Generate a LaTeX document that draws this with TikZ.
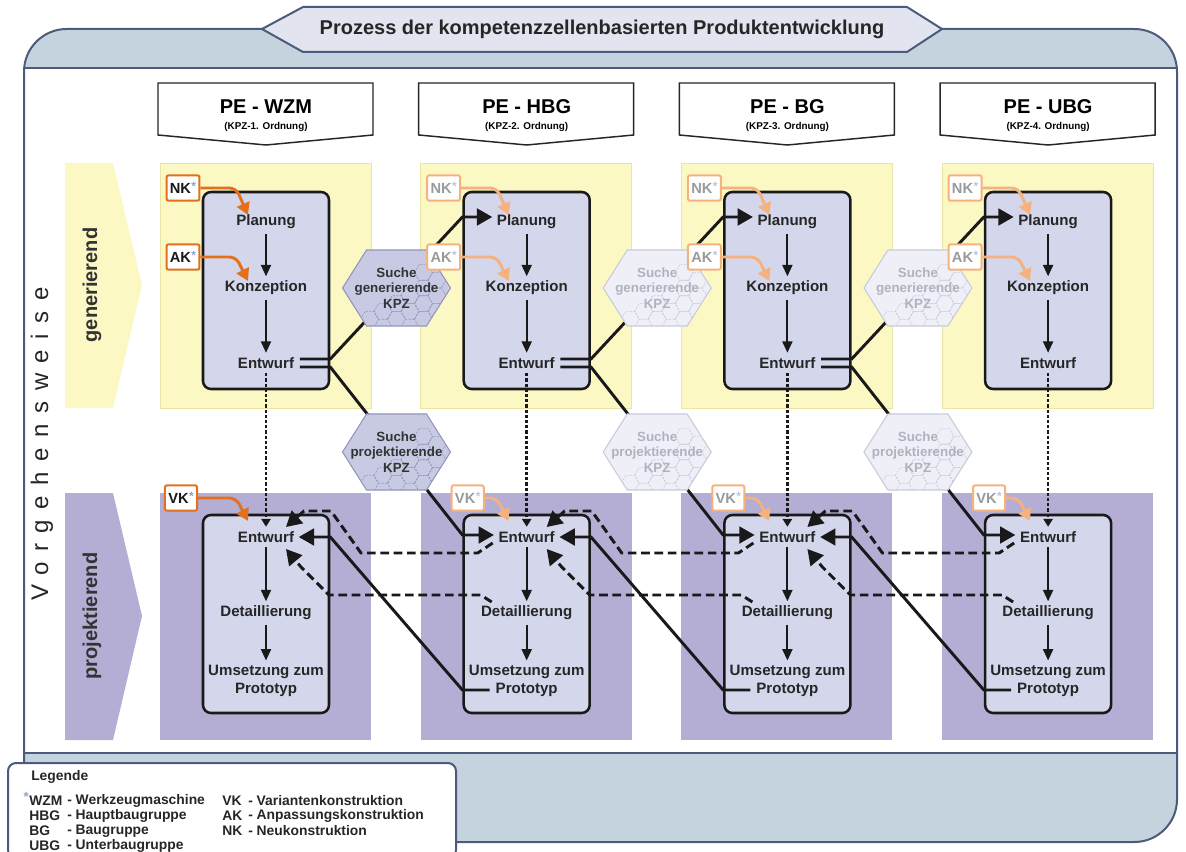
\documentclass[tikz,border=0pt]{standalone}
\usepackage{fontspec}
\setmainfont{Liberation Sans}
\newfontfamily\spacedfont[LetterSpace=44]{Liberation Sans}
\usepackage{tikz}
\usetikzlibrary{arrows.meta,calc,fit}
\definecolor{framecol}{HTML}{4C5B7B}
\definecolor{bandblue}{HTML}{C5D3DE}
\definecolor{tabgray}{HTML}{E2E5EF}
\definecolor{genyellow}{HTML}{FCF8C4}
\definecolor{genedge}{HTML}{ECE5A8}
\definecolor{projpurple}{HTML}{B4ADD4}
\definecolor{phasefill}{HTML}{D4D6EC}
\definecolor{kpzdark}{HTML}{E2701C}
\definecolor{kpzlight}{HTML}{F5B27E}
\definecolor{labelgray}{HTML}{9A9A9A}
\definecolor{starblue}{HTML}{8DA3D0}
\definecolor{starpale}{HTML}{B9C7E4}
\definecolor{hexfill}{HTML}{C8CAE4}
\definecolor{hexedge}{HTML}{9396B8}
\definecolor{hexink}{HTML}{333333}
\definecolor{hexpale}{HTML}{EEEFF7}
\definecolor{hexpaleedge}{HTML}{C9CBDA}
\definecolor{hexpaleink}{HTML}{B0B2C0}
\newcommand{\starmark}[1]{\kern0.3pt\raisebox{2pt}{\fontsize{9}{9}\selectfont\color{#1}*}}
\tikzset{
  frameline/.style={draw=framecol, line width=1.5pt},
  titletext/.style={font=\fontsize{15}{18}\selectfont\bfseries, text=black!85},
  headbox/.style={draw=black!85, fill=white, line width=1.1pt},
  headtitle/.style={font=\fontsize{15}{18}\selectfont\bfseries, inner sep=0pt},
  headsub/.style={font=\fontsize{7.4}{9}\selectfont\bfseries, inner sep=0pt},
  sidelabel/.style={rotate=90, font=\fontsize{15}{18}\selectfont\bfseries, text=black!80},
  waylabel/.style={rotate=90, font=\fontsize{18}{20}\spacedfont, text=black!85},
  panelgen/.style={fill=genyellow, draw=genedge, line width=0.6pt},
  panelproj/.style={fill=projpurple},
  procbox/.style={draw=black!90, fill=phasefill, line width=1.9pt, rounded corners=6pt, inner sep=0pt},
  phase/.style={font=\fontsize{11.3}{13.6}\selectfont\bfseries, text=black!85, align=center},
  steparrow/.style={draw=black!90, line width=1.4pt, -{Triangle[width=7.5pt,length=8.5pt]}},
  link/.style={draw=black!90, line width=2.2pt},
  bigtip/.style={-{Triangle[width=12.5pt,length=11.5pt]}},
  backlink/.style={link, bigtip, dash pattern=on 6.5pt off 3.5pt},
  dotlink/.style={draw=black!90, line width=2pt, dash pattern=on 2.4pt off 1.5pt, -{Triangle[width=7pt,length=6pt]}},
  kpzbox/.style={fill=white, line width=1.5pt, rounded corners=1.5pt, inner xsep=2.5pt, inner ysep=2pt, minimum height=19pt, font=\fontsize{11}{13}\selectfont\bfseries},
  kpzarrow/.style={line width=2.2pt, rounded corners=5pt, -{Triangle[width=10pt,length=9pt]}},
  hexshape/.style={insert path={++(-54,0) -- ++(24,-38) -- ++(60,0) -- ++(24,38) -- ++(-24,38) -- ++(-60,0) -- cycle}},
  cellshape/.style={insert path={++(-9,0) -- ++(4.5,-7.8) -- ++(9,0) -- ++(4.5,7.8) -- ++(-4.5,7.8) -- ++(-9,0) -- cycle}},
  hexlabel/.style={font=\fontsize{10}{11.6}\selectfont\bfseries, align=center, inner sep=0pt},
  legendtext/.style={anchor=west, inner sep=0pt, font=\fontsize{10.4}{12}\selectfont\bfseries, text=black!85}
}
\begin{document}
\begin{tikzpicture}[x=0.75pt,y=-0.75pt]
  \useasboundingbox (0,0) rectangle (1186,852);
  % frame with title tab
  \fill[bandblue, rounded corners=32pt] (24,842) -- (24,29) -- (1177,29) -- (1177,842) -- cycle;
  \fill[white] (24,68) rectangle (1177,753);
  \draw[frameline, rounded corners=32pt] (24,842) -- (24,29) -- (1177,29) -- (1177,842) -- cycle;
  \draw[frameline] (24,68) -- (1177,68) (24,753) -- (1177,753);
  \draw[frameline, fill=tabgray] (262,29) -- (303,7) -- (907,7) -- (942,29) -- (907,52) -- (303,52) -- cycle;
  \node[titletext] (title) at (602,29) {Prozess der kompetenzzellenbasierten Produktentwicklung};
  % side arrows
  \fill[genyellow] (65,163) -- (113,163) -- (142,285) -- (113,408) -- (65,408) -- cycle;
  \node[sidelabel] (gen) at (92,285) {generierend};
  \fill[projpurple] (65,493) -- (113,493) -- (142,616) -- (113,740) -- (65,740) -- cycle;
  \node[sidelabel] (proj) at (92,616) {projektierend};
  \node[waylabel] (vorg) at (42,444) {Vorgehensweise};
  % one column per PE
  \foreach \i/\abb in {1/WZM,2/HBG,3/BG,4/UBG}{
    \pgfmathsetmacro\colx{203+260.7*(\i-1)}
    \draw[headbox] (\colx-45,83) -- (\colx+170,83) -- (\colx+170,135) -- (\colx+63,145) -- (\colx-45,135) -- cycle;
    \node[headtitle] (head\i) at (\colx+63,107) {PE - \abb};
    \node[headsub] (ord\i) at (\colx+63,127) {(KPZ-\i. Ordnung)};
    \draw[panelgen] (\colx-43,163) rectangle (\colx+168,408);
    \fill[panelproj] (\colx-43,493) rectangle (\colx+168,740);
    \node[procbox, fit={(\colx,192) (\colx+126,389)}] (gbox\i) {};
    \node[procbox, fit={(\colx,515) (\colx+126,713)}] (pbox\i) {};
    \node[phase] (plan\i) at (\colx+63,222) {Planung};
    \node[phase] (konz\i) at (\colx+63,288) {Konzeption};
    \node[phase] (entg\i) at (\colx+63,363) {Entwurf};
    \node[phase] (entp\i) at (\colx+63,537) {Entwurf};
    \node[phase] (det\i) at (\colx+63,613) {Detaillierung};
    \node[phase] (ums\i) at (\colx+63,681) {Umsetzung zum\\Prototyp};
    \draw[steparrow] (plan\i) -- (konz\i);
    \draw[steparrow] (konz\i) -- (entg\i);
    \draw[steparrow] (entp\i) -- (det\i);
    \draw[steparrow] (det\i) -- (ums\i);
    \draw[dotlink] (entg\i) -- (entp\i);
  }
  % links to the next cell and back
  \foreach \i/\j in {1/2,2/3,3/4}{
    \draw[link, bigtip] ($(entg\i.east)+(1,-4)$) -- ($(gbox\i.east |- entg\i)+(0,-4)$)
      -- ($(gbox\j.west |- plan\j)+(0,-5)$) -- ($(plan\j.west)+(0,-5)$);
    \draw[link, bigtip] ($(entg\i.east)+(1,4)$) -- ($(gbox\i.east |- entg\i)+(0,4)$)
      -- ($(pbox\j.west |- entp\j)+(0,-2)$) -- ($(entp\j.west)+(0,-2)$);
    \draw[link, bigtip] ($(ums\j)+(-37,9)$) -- ($(pbox\j.west |- ums\j)+(0,9)$)
      -- (pbox\i.east |- entp\i) -- (entp\i.east);
    \draw[backlink] ($(entp\j)+(-34,6)$) -- ($(entp\j)+(-49,16)$) -- ($(entp\i)+(95,16)$)
      -- ($(entp\i)+(65,-26)$) -- ($(entp\i)+(38,-26)$) -- ($(entp\i)+(20,-10)$);
    \draw[backlink] ($(det\j)+(-35,-11)$) -- ($(det\j)+(-46,-18)$) -- ($(det\i)+(63,-18)$)
      -- ($(det\i)+(35,-46)$) -- ($(det\i)+(20,-64)$);
  }
  % search hexagons
  \foreach \i in {1,2,3}{
    \pgfmathsetmacro\hx{396.5+260.7*(\i-1)}
    \ifnum\i=1 \def\hexfc{hexfill}\def\hexdc{hexedge}\def\hextc{hexink}%
    \else \def\hexfc{hexpale}\def\hexdc{hexpaleedge}\def\hextc{hexpaleink}\fi
    \foreach \h/\t/\hy in {hg/generierende/288,hp/projektierende/452}{
      \coordinate (\h\i) at (\hx,\hy);
      \filldraw[fill=\hexfc, draw=\hexdc, line width=0.8pt] (\h\i) [hexshape];
      \begin{scope}
        \clip (\h\i) [hexshape];
        \foreach \dx/\dy in {-27/31.2,-13.5/23.4,0/31.2,0/15.6,13.5/23.4,13.5/7.8,27/15.6,27/31.2,27/0,40.5/7.8,40.5/23.4,40.5/-7.8,27/-15.6}
          \draw[draw=\hexdc, line width=0.5pt, dash pattern=on 1.5pt off 1pt] ($(\h\i)+(\dx,\dy)$) [cellshape];
      \end{scope}
      \node[hexlabel, text=\hextc] (\h txt\i) at (\h\i) {Suche\\\t\\KPZ};
    }
  }
  % NK, AK and VK entries
  \foreach \i in {1,...,4}{
    \pgfmathsetmacro\colx{203+260.7*(\i-1)}
    \ifnum\i=1 \def\kc{kpzdark}\def\kt{black!90}\def\ks{starblue}\def\kvx{-22}%
    \else \def\kc{kpzlight}\def\kt{labelgray}\def\ks{starpale}\def\kvx{4}\fi
    \node[kpzbox, draw=\kc, text=\kt] (nk\i) at (\colx-20,188) {NK\starmark{\ks}};
    \node[kpzbox, draw=\kc, text=\kt] (ak\i) at (\colx-20,257) {AK\starmark{\ks}};
    \node[kpzbox, draw=\kc, text=\kt] (vk\i) at (\colx+\kvx,498) {VK\starmark{\ks}};
    \draw[kpzarrow, color=\kc] (nk\i.east) -- ($(nk\i.east -| plan\i)+(-30,0)$) -- ($(plan\i)+(-18,-7)$);
    \draw[kpzarrow, color=\kc] (ak\i.east) -- ($(ak\i.east -| konz\i)+(-30,0)$) -- ($(konz\i)+(-18,-7)$);
    \draw[kpzarrow, color=\kc] (vk\i.east) -- ($(vk\i.east -| entp\i)+(-30,0)$) -- ($(entp\i)+(-18,-16)$);
  }
  % legend
  \draw[frameline, fill=white, rounded corners=6pt] (8,763) rectangle (456,858);
  \node[legendtext] (legtitle) at (31,777) {Legende};
  \node[anchor=east, inner sep=0pt, text=starblue, font=\fontsize{10}{10}\selectfont\bfseries] (legstar) at (29,797) {*};
  \foreach \ab/\tx [count=\n] in {WZM/Werkzeugmaschine,HBG/Hauptbaugruppe,BG/Baugruppe,UBG/Unterbaugruppe}{
    \node[legendtext] (labb\n) at (29,786+15*\n) {\ab};
    \node[legendtext] (ldesc\n) at (67,786+15*\n) {- \tx};
  }
  \foreach \ab/\tx [count=\n] in {VK/Variantenkonstruktion,AK/Anpassungskonstruktion,NK/Neukonstruktion}{
    \node[legendtext] (rabb\n) at (222,786+15*\n) {\ab};
    \node[legendtext] (rdesc\n) at (248,786+15*\n) {- \tx};
  }
\end{tikzpicture}
\end{document}
